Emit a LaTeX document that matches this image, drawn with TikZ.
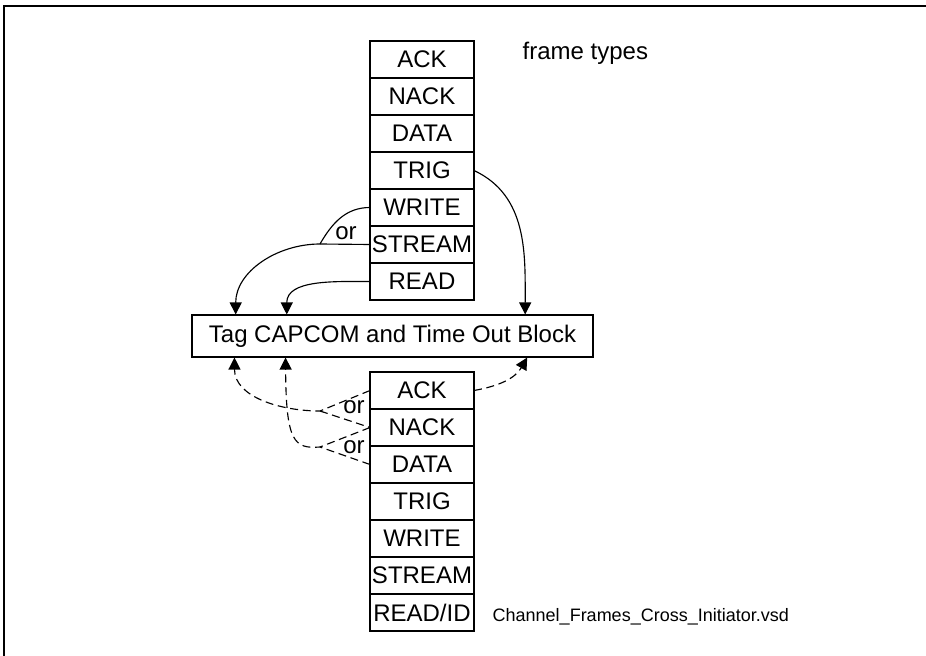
\documentclass[tikz,border=0pt]{standalone}
\usepackage{fontspec}
\setmainfont{Liberation Sans}
\usetikzlibrary{arrows.meta, positioning, calc}

\begin{document}
\begin{tikzpicture}[
  x=0.75pt, y=-0.75pt,
  font=\fontsize{18}{20}\selectfont, node distance=0pt,
  fr/.style={draw, fill=white, line width=0.8pt, minimum width=78pt,
             minimum height=27.75pt, inner sep=0pt, outer sep=0pt},
  blk/.style={draw, line width=0.8pt, minimum width=300.75pt,
              minimum height=31.5pt, inner sep=0pt},
  lnk/.style={line width=0.85pt},
  arr/.style={lnk, -{Triangle[length=9pt,width=9pt]}},
  dlnk/.style={lnk, dash pattern=on 6pt off 3.5pt},
  darr/.style={arr, dash pattern=on 6pt off 3.5pt},
]
\useasboundingbox (0,0) rectangle (926,656);
\draw[line width=1.2pt] (4,656) -- (4,6) -- (926,6);

% frames going out
\node[fr] (tack) at (422,59.5) {ACK};
\node[fr, below=of tack] (tnack) {NACK};
\node[fr, below=of tnack] (tdata) {DATA};
\node[fr, below=of tdata] (ttrig) {TRIG};
\node[fr, below=of ttrig] (twrite) {WRITE};
\node[fr, below=of twrite] (tstream) {STREAM};
\node[fr, below=of tstream] (tread) {READ};
\node[anchor=base west] (types) at (518,60) {frame types};

\node[blk] (tag) at (392.5,336) {Tag CAPCOM and Time Out Block};

% frames coming back
\node[fr] (back) at (422,390.5) {ACK};
\node[fr, below=of back] (bnack) {NACK};
\node[fr, below=of bnack] (bdata) {DATA};
\node[fr, below=of bdata] (btrig) {TRIG};
\node[fr, below=of btrig] (bwrite) {WRITE};
\node[fr, below=of bwrite] (bstream) {STREAM};
\node[fr, below=of bstream] (bread) {READ/ID};
\node[anchor=base west, font=\fontsize{13.5}{15}\selectfont] (fname) at (488,621)
  {Channel\_Frames\_Cross\_Initiator.vsd};

% where the arrows meet the block
\coordinate (tagA) at ($(tag.north west)!0.11!(tag.north east)$);
\coordinate (tagB) at ($(tag.north west)!0.237!(tag.north east)$);
\coordinate (tagC) at ($(tag.north west)!0.83!(tag.north east)$);
\coordinate (tagD) at ($(tag.south west)!0.107!(tag.south east)$);
\coordinate (tagE) at ($(tag.south west)!0.234!(tag.south east)$);
\coordinate (tagF) at ($(tag.south west)!0.835!(tag.south east)$);
\coordinate (jw) at (320,244);
\coordinate (ja) at (320,411);
\coordinate (jn) at (320,447);

\draw[arr] (ttrig.east) to[out=-25,in=90] (tagC);
\draw[lnk] (twrite.west) to[out=180,in=60] (jw);
\draw[arr] (tstream.west) -- (jw) to[out=180,in=90] (tagA);
\draw[arr] (tread.west) to[out=180,in=90] (tagB);
\node (or1) at (346,233) {or};

\draw[darr] (back.east) to[out=10,in=-120] (tagF);
\draw[darr] (back.west) -- (ja) to[out=180,in=-90] (tagD);
\draw[dlnk] (ja) -- (bnack.west);
\draw[darr] (bnack.west) -- (jn) .. controls (294,449) and (286,442) .. (tagE);
\draw[dlnk] (bdata.west) -- (jn);
\node (or2) at (354,407) {or};
\node (or3) at (354,447) {or};
\end{tikzpicture}
\end{document}
